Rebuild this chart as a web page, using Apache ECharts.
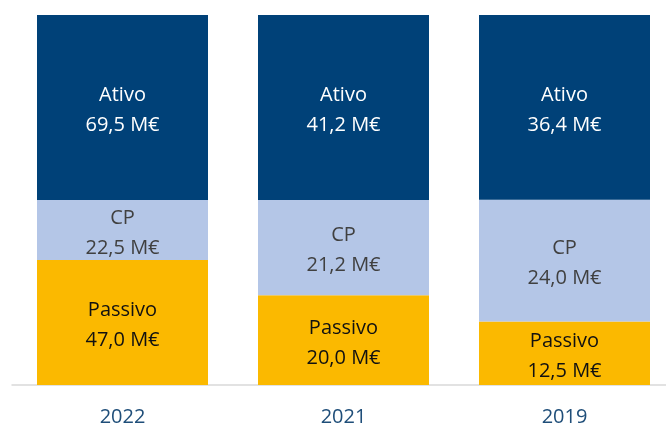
<!DOCTYPE html>
<html>
<head>
<meta charset="utf-8">
<script src="https://cdn.jsdelivr.net/npm/echarts@6/dist/echarts.min.js"></script>
<style>
  html, body { margin: 0; padding: 0; background: #fff; overflow: hidden; }
  #chart { width: 676px; height: 427px; }
</style>
</head>
<body>
<div id="chart"></div>
<script>
// Balance sheet by year (M€): assets on top, equity + liabilities below
const years = ['2022', '2021', '2019'];
const ativo = [69.5, 41.2, 36.4];
const cp = [22.5, 21.2, 24.0];
const passivo = [47.0, 20.0, 12.5];

// Each column is shown as 100% of its own total
const totals = years.map((_, i) => ativo[i] + cp[i] + passivo[i]);
const share = (arr) => arr.map((v, i) => ({ value: v / totals[i] * 100, raw: v }));
const fmt = (v) => v.toFixed(1).replace('.', ',') + ' M€';

const FONT = '"Open Sans", "Liberation Sans", sans-serif';

function makeSeries(name, arr, color, textColor) {
  return {
    name: name,
    type: 'bar',
    stack: 'total',
    barWidth: 171,
    data: share(arr),
    itemStyle: { color: color },
    label: {
      show: true,
      position: 'inside',
      offset: [0, 3],
      color: textColor,
      fontFamily: FONT,
      fontSize: 20,
      lineHeight: 30,
      formatter: (p) => name + '\n' + fmt(p.data.raw)
    },
    emphasis: { disabled: true }
  };
}

const chart = echarts.init(document.getElementById('chart'));
chart.setOption({
  animation: false,
  grid: { left: 12, top: 15, right: 1, bottom: 40, containLabel: false },
  xAxis: {
    type: 'category',
    data: years,
    axisLine: { show: true, lineStyle: { color: '#d9d9d9', width: 1.5 } },
    axisTick: { show: false },
    axisLabel: { color: '#1f4e79', fontFamily: FONT, fontSize: 20, margin: 22 }
  },
  yAxis: {
    type: 'value',
    min: 0,
    max: 100,
    show: false,
    splitLine: { show: false }
  },
  series: [
    makeSeries('Passivo', passivo, '#fbb900', '#111111'),
    makeSeries('CP', cp, '#b4c6e7', '#404040'),
    makeSeries('Ativo', ativo, '#004178', '#ffffff')
  ]
});
</script>
</body>
</html>
